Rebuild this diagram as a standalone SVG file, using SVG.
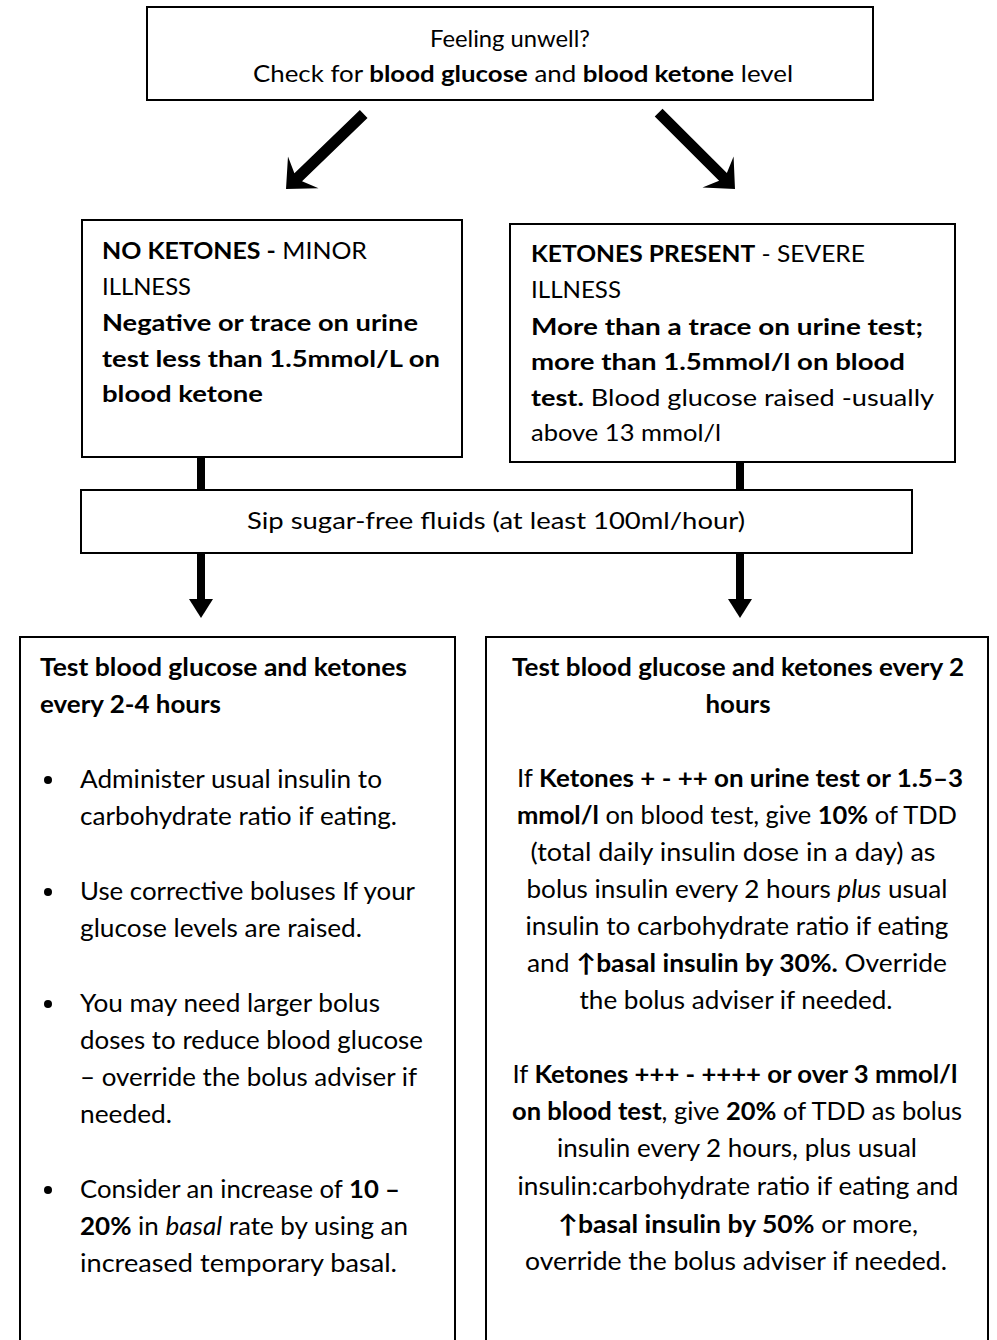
<svg xmlns="http://www.w3.org/2000/svg" width="997" height="1340" viewBox="0 0 997 1340">
<style>
.box{fill:#fff;stroke:#000;stroke-width:2}
.t{font-family:Lato,"Open Sans","DejaVu Sans",sans-serif;font-size:23px;fill:#000}
.L{font-size:25px}
.c{text-anchor:middle}
.b{font-weight:bold}
.i{font-style:italic}
.arr{fill:#000}
</style>
<defs>
<polygon id="diag" points="-5.5,-108 5.5,-108 5.5,-17 22,-24 0,0 -22,-24 -5.5,-17"/>
</defs>
<rect width="997" height="1340" fill="#fff"/>

<g id="connectors">
<use href="#diag" class="arr" transform="translate(286,189) rotate(46)"/>
<use href="#diag" class="arr" transform="translate(735,189) rotate(-45)"/>
<rect class="arr" x="197" y="457" width="8" height="34"/>
<rect class="arr" x="736" y="462" width="8" height="29"/>
<rect class="arr" x="197" y="553" width="8" height="48"/>
<polygon class="arr" points="189,599 213,599 201,618"/>
<rect class="arr" x="736" y="553" width="8" height="48"/>
<polygon class="arr" points="728,599 752,599 740,618"/>
</g>

<g id="start">
<rect class="box" x="147" y="7" width="726" height="93"/>
<text class="t c" x="510" y="47" textLength="160" lengthAdjust="spacingAndGlyphs">Feeling unwell?</text>
<text class="t c" x="523" y="82" textLength="540" lengthAdjust="spacingAndGlyphs">Check for <tspan class="b">blood glucose</tspan> and <tspan class="b">blood ketone</tspan> level</text>
</g>

<g id="no-ketones">
<rect class="box" x="82" y="220" width="380" height="237"/>
<text class="t" x="102" y="259" textLength="265" lengthAdjust="spacingAndGlyphs"><tspan class="b">NO KETONES -</tspan> MINOR</text>
<text class="t" x="102" y="295" textLength="89" lengthAdjust="spacingAndGlyphs">ILLNESS</text>
<text class="t b" x="102" y="331" textLength="316" lengthAdjust="spacingAndGlyphs">Negative or trace on urine</text>
<text class="t b" x="102" y="367" textLength="338" lengthAdjust="spacingAndGlyphs">test less than 1.5mmol/L on</text>
<text class="t b" x="102" y="402" textLength="161" lengthAdjust="spacingAndGlyphs">blood ketone</text>
</g>

<g id="ketones-present">
<rect class="box" x="510" y="224" width="445" height="238"/>
<text class="t" x="531" y="262" textLength="334" lengthAdjust="spacingAndGlyphs"><tspan class="b">KETONES PRESENT</tspan> - SEVERE</text>
<text class="t" x="531" y="298" textLength="90" lengthAdjust="spacingAndGlyphs">ILLNESS</text>
<text class="t b" x="531" y="335" textLength="392" lengthAdjust="spacingAndGlyphs">More than a trace on urine test;</text>
<text class="t b" x="531" y="370" textLength="374" lengthAdjust="spacingAndGlyphs">more than 1.5mmol/l on blood</text>
<text class="t" x="531" y="406" textLength="403" lengthAdjust="spacingAndGlyphs"><tspan class="b">test.</tspan> Blood glucose raised -usually</text>
<text class="t" x="531" y="441" textLength="190" lengthAdjust="spacingAndGlyphs">above 13 mmol/l</text>
</g>

<g id="fluids">
<rect class="box" x="81" y="490" width="831" height="63"/>
<text class="t c" x="496" y="529" textLength="498" lengthAdjust="spacingAndGlyphs">Sip sugar-free fluids (at least 100ml/hour)</text>
</g>

<g id="minor-actions">
<rect class="box" x="20" y="637" width="435" height="720"/>
<text class="t L b" x="40" y="676" textLength="367" lengthAdjust="spacingAndGlyphs">Test blood glucose and ketones</text>
<text class="t L b" x="40" y="713" textLength="181" lengthAdjust="spacingAndGlyphs">every 2-4 hours</text>
<circle cx="48" cy="780" r="4"/>
<text class="t L" x="80" y="788" textLength="302" lengthAdjust="spacingAndGlyphs">Administer usual insulin to</text>
<text class="t L" x="80" y="825" textLength="317" lengthAdjust="spacingAndGlyphs">carbohydrate ratio if eating.</text>
<circle cx="48" cy="892" r="4"/>
<text class="t L" x="80" y="900" textLength="335" lengthAdjust="spacingAndGlyphs">Use corrective boluses If your</text>
<text class="t L" x="80" y="937" textLength="282" lengthAdjust="spacingAndGlyphs">glucose levels are raised.</text>
<circle cx="48" cy="1004" r="4"/>
<text class="t L" x="80" y="1012" textLength="300" lengthAdjust="spacingAndGlyphs">You may need larger bolus</text>
<text class="t L" x="80" y="1049" textLength="343" lengthAdjust="spacingAndGlyphs">doses to reduce blood glucose</text>
<text class="t L" x="80" y="1086" textLength="337" lengthAdjust="spacingAndGlyphs">– override the bolus adviser if</text>
<text class="t L" x="80" y="1123" textLength="92" lengthAdjust="spacingAndGlyphs">needed.</text>
<circle cx="48" cy="1190" r="4"/>
<text class="t L" x="80" y="1198" textLength="320" lengthAdjust="spacingAndGlyphs">Consider an increase of <tspan class="b">10 –</tspan></text>
<text class="t L" x="80" y="1235" textLength="328" lengthAdjust="spacingAndGlyphs"><tspan class="b">20%</tspan> in <tspan class="i">basal</tspan> rate by using an</text>
<text class="t L" x="80" y="1272" textLength="317" lengthAdjust="spacingAndGlyphs">increased temporary basal.</text>
</g>

<g id="severe-actions">
<rect class="box" x="486" y="637" width="502" height="720"/>
<text class="t L b c" x="738" y="676" textLength="452" lengthAdjust="spacingAndGlyphs">Test blood glucose and ketones every 2</text>
<text class="t L b c" x="738" y="713" textLength="65" lengthAdjust="spacingAndGlyphs">hours</text>
<text class="t L c" x="740" y="787" textLength="446" lengthAdjust="spacingAndGlyphs">If <tspan class="b">Ketones  + - ++ on urine test  or 1.5–3</tspan></text>
<text class="t L c" x="737" y="824" textLength="440" lengthAdjust="spacingAndGlyphs"><tspan class="b">mmol/l</tspan> on blood test, give <tspan class="b">10%</tspan> of TDD</text>
<text class="t L c" x="733" y="861" textLength="405" lengthAdjust="spacingAndGlyphs">(total daily insulin dose in a day) as</text>
<text class="t L c" x="737" y="898" textLength="421" lengthAdjust="spacingAndGlyphs">bolus insulin every 2 hours <tspan class="i">plus</tspan> usual</text>
<text class="t L c" x="737" y="935" textLength="423" lengthAdjust="spacingAndGlyphs">insulin to carbohydrate ratio if eating</text>
<text class="t L c" x="737" y="972" textLength="420" lengthAdjust="spacingAndGlyphs">and <tspan class="b">↑basal insulin by 30%.</tspan> Override</text>
<text class="t L c" x="736" y="1009" textLength="313" lengthAdjust="spacingAndGlyphs">the bolus adviser if needed.</text>
<text class="t L c" x="735" y="1083" textLength="445" lengthAdjust="spacingAndGlyphs">If <tspan class="b">Ketones +++ - ++++ or over 3 mmol/l</tspan></text>
<text class="t L c" x="737" y="1120" textLength="450" lengthAdjust="spacingAndGlyphs"><tspan class="b">on blood test</tspan>, give <tspan class="b">20%</tspan> of TDD as bolus</text>
<text class="t L c" x="737" y="1157" textLength="360" lengthAdjust="spacingAndGlyphs">insulin every 2 hours, plus usual</text>
<text class="t L c" x="738" y="1195" textLength="441" lengthAdjust="spacingAndGlyphs">insulin:carbohydrate ratio if eating and</text>
<text class="t L c" x="738" y="1233" textLength="360" lengthAdjust="spacingAndGlyphs"><tspan class="b">↑basal insulin by 50%</tspan> or more,</text>
<text class="t L c" x="736" y="1270" textLength="422" lengthAdjust="spacingAndGlyphs">override the bolus adviser  if needed.</text>
</g>
</svg>
